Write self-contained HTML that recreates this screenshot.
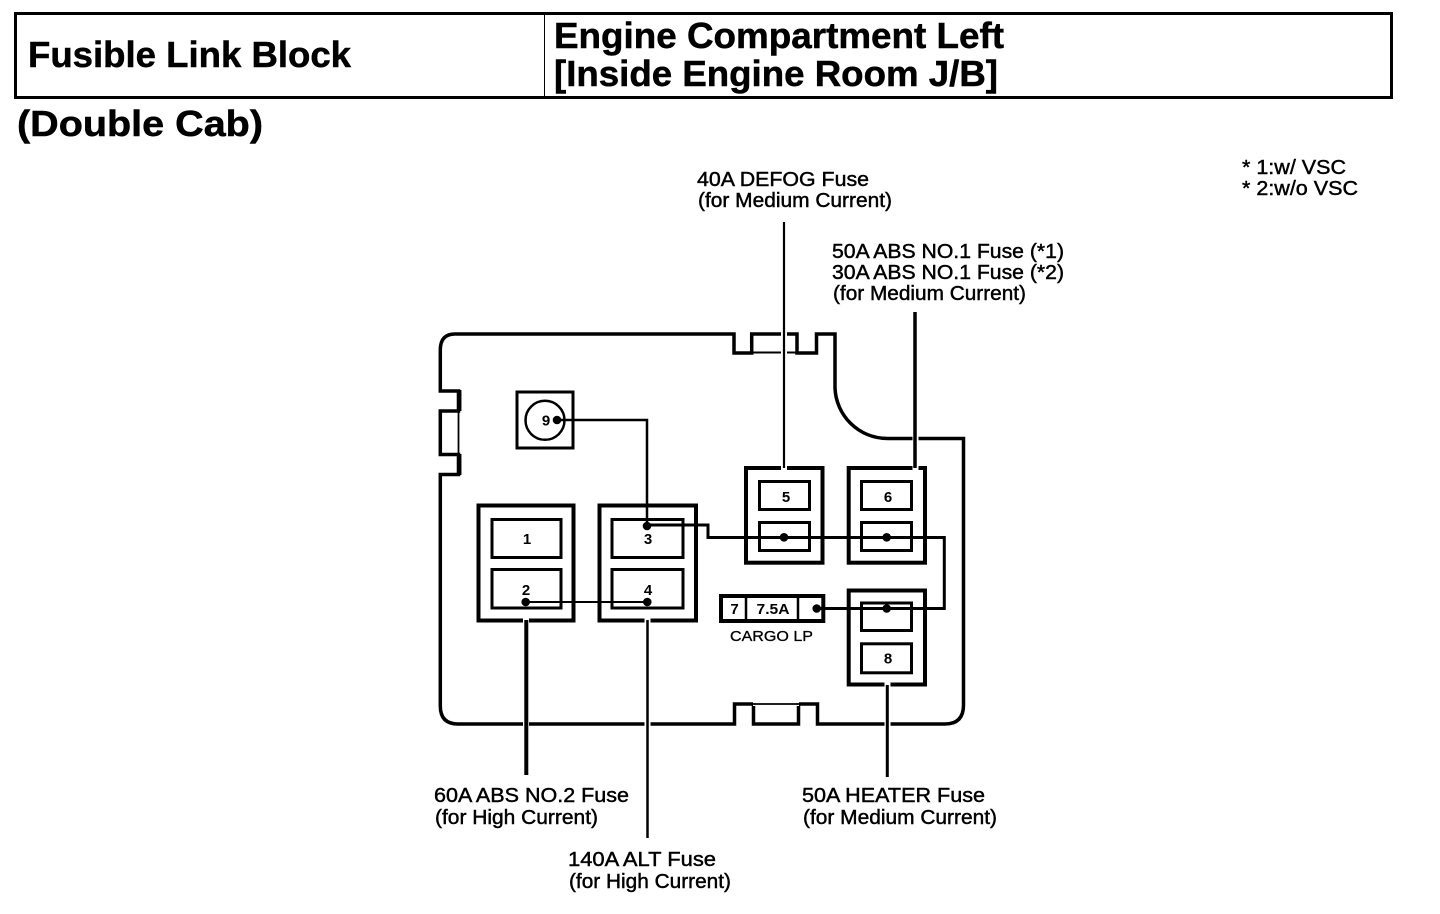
<!DOCTYPE html>
<html>
<head>
<meta charset="utf-8">
<style>
html,body{margin:0;padding:0;background:#fff;width:1440px;height:914px;overflow:hidden}
svg{display:block;position:absolute;left:0;top:0}
text{font-family:"Liberation Sans",sans-serif;fill:#000}
.b{font-weight:bold;stroke:#000;stroke-width:.5px}
.l{font-size:20px;stroke:#000;stroke-width:.45px}
.n{font-size:15px;font-weight:bold;text-anchor:middle}
</style>
</head>
<body>
<svg width="1440" height="914" viewBox="0 0 1440 914" xmlns="http://www.w3.org/2000/svg">
<!-- header -->
<rect x="15.5" y="13.500" width="1376" height="84" fill="none" stroke="#000" stroke-width="3"/>
<line x1="544.500" y1="14" x2="544.500" y2="98" stroke="#000" stroke-width="1"/>
<text class="b" x="28" y="67" font-size="36" textLength="323" lengthAdjust="spacingAndGlyphs">Fusible Link Block</text>
<text class="b" x="554" y="48" font-size="36" textLength="450" lengthAdjust="spacingAndGlyphs">Engine Compartment Left</text>
<text class="b" x="554" y="86" font-size="36" textLength="444" lengthAdjust="spacingAndGlyphs">[Inside Engine Room J/B]</text>
<text class="b" x="17" y="136" font-size="36" textLength="246" lengthAdjust="spacingAndGlyphs">(Double Cab)</text>

<!-- notes -->
<text class="l" x="1242" y="174" textLength="104" lengthAdjust="spacingAndGlyphs">* 1:w/ VSC</text>
<text class="l" x="1242" y="195" textLength="116" lengthAdjust="spacingAndGlyphs">* 2:w/o VSC</text>

<!-- housing outline -->
<g fill="none" stroke="#000" stroke-linejoin="miter">
<path d="M440.300 391 V350 Q440.300 334 455 334 H734 V353 H751.700 V334 H797 V353 H816.500 V334 H835 V388 C836 415 858 438.500 888 438.500 H963.500 V705 Q963.500 724 945 724 H817.500 V704 H798.500 V724 H753.500 V704 H734.500 V724 H458 Q440.300 724 440.300 706 V474.500 H458.500 V454.500 H440.300 V411 H458.500 V391 Z" stroke-width="3.500"/>
<line x1="752" y1="352.500" x2="798" y2="352.500" stroke-width="2"/>
<line x1="753" y1="704" x2="799" y2="704" stroke="#fff" stroke-width="4"/>
<line x1="752" y1="704" x2="800" y2="704" stroke-width="1.800"/>
<line x1="459.200" y1="390" x2="459.200" y2="411" stroke-width="4.500"/>
<line x1="459.200" y1="454" x2="459.200" y2="475" stroke-width="4.500"/>
<line x1="458.500" y1="411" x2="458.500" y2="455" stroke-width="1.800"/>
</g>

<!-- halos where leaders cross outline -->
<g stroke="#fff" stroke-width="6" fill="none">
<line x1="784" y1="331" x2="784" y2="356"/>
<line x1="915.500" y1="436" x2="915.500" y2="441"/>
<line x1="526" y1="720" x2="526" y2="727"/>
<line x1="647.500" y1="720" x2="647.500" y2="727"/>
<line x1="887.500" y1="720" x2="887.500" y2="727"/>
</g>

<!-- fuse 9 -->
<rect x="517" y="392" width="56" height="56" fill="#fff" stroke="#000" stroke-width="3"/>
<circle cx="545" cy="420.300" r="19.500" fill="none" stroke="#000" stroke-width="2.500"/>

<!-- blocks -->
<g fill="#fff" stroke="#000">
<rect x="478.500" y="505.500" width="95" height="115" stroke-width="4"/>
<rect x="492" y="519.500" width="69" height="38" stroke-width="3"/>
<rect x="492" y="569.500" width="69" height="38.500" stroke-width="3"/>
<rect x="599.500" y="505.500" width="96.500" height="115" stroke-width="4"/>
<rect x="612" y="519.500" width="71" height="38" stroke-width="3"/>
<rect x="612" y="569.500" width="71" height="38.500" stroke-width="3"/>
<rect x="746" y="468" width="76.500" height="94.700" stroke-width="4"/>
<rect x="759.500" y="481.500" width="50" height="28" stroke-width="3"/>
<rect x="759.500" y="522.500" width="50" height="28" stroke-width="3"/>
<rect x="848.700" y="468" width="76.300" height="94.700" stroke-width="4"/>
<rect x="861.500" y="481.500" width="50" height="28" stroke-width="3"/>
<rect x="861.500" y="522.500" width="50" height="28" stroke-width="3"/>
<rect x="848.700" y="590.500" width="76.300" height="94" stroke-width="4"/>
<rect x="861.500" y="603" width="50" height="27.500" stroke-width="3"/>
<rect x="861.500" y="643.800" width="50" height="29" stroke-width="3"/>
<rect x="721" y="596" width="102.300" height="25" stroke-width="4"/>
</g>
<line x1="746" y1="596" x2="746" y2="621" stroke="#000" stroke-width="2.500"/>
<line x1="798" y1="596" x2="798" y2="621" stroke="#000" stroke-width="2.500"/>

<!-- halos at block entries -->
<g stroke="#fff" stroke-width="6">
<line x1="784" y1="465" x2="784" y2="470"/>
<line x1="915.500" y1="465" x2="915.500" y2="470"/>
<line x1="526" y1="618" x2="526" y2="623"/>
<line x1="647.500" y1="618" x2="647.500" y2="623"/>
<line x1="887.500" y1="682" x2="887.500" y2="687"/>
</g>

<!-- leaders -->
<g stroke="#000" fill="none">
<line x1="784" y1="222" x2="784" y2="468" stroke-width="2.200"/>
<line x1="915" y1="312" x2="915" y2="468" stroke-width="3.500"/>
<line x1="526.300" y1="620" x2="526.300" y2="775" stroke-width="4"/>
<line x1="647.500" y1="620" x2="647.500" y2="838" stroke-width="2.500"/>
<line x1="887.300" y1="685" x2="887.300" y2="777" stroke-width="3"/>
</g>

<!-- wiring -->
<g stroke="#000" fill="none">
<path d="M557 420 H647 V525" stroke-width="2.500"/>
<path d="M647 525 H708 V537.500 H944.300 V608.500 H817" stroke-width="3"/>
<line x1="525" y1="602" x2="647" y2="602" stroke-width="2"/>
</g>
<g fill="#000">
<circle cx="557" cy="420" r="4.300"/>
<circle cx="647" cy="526" r="4.300"/>
<circle cx="525.700" cy="602" r="4.300"/>
<circle cx="647.300" cy="602" r="4.300"/>
<circle cx="784" cy="537.300" r="4.300"/>
<circle cx="886.700" cy="537.300" r="4.300"/>
<circle cx="886.700" cy="608.500" r="4.300"/>
<circle cx="816.700" cy="608.500" r="4.300"/>
</g>

<!-- numbers -->
<text class="n" x="546" y="425.500">9</text>
<text class="n" x="527" y="544">1</text>
<text class="n" x="526" y="595">2</text>
<text class="n" x="648" y="544">3</text>
<text class="n" x="648" y="595">4</text>
<text class="n" x="786" y="502">5</text>
<text class="n" x="888" y="502">6</text>
<text class="n" x="734.500" y="614">7</text>
<text class="n" x="773" y="614" textLength="33" lengthAdjust="spacingAndGlyphs">7.5A</text>
<text class="n" x="888" y="663.500">8</text>

<!-- labels -->
<text class="l" x="697" y="186" textLength="172" lengthAdjust="spacingAndGlyphs">40A DEFOG Fuse</text>
<text class="l" x="698" y="207" textLength="194" lengthAdjust="spacingAndGlyphs">(for Medium Current)</text>
<text class="l" x="832" y="258" textLength="232" lengthAdjust="spacingAndGlyphs">50A ABS NO.1 Fuse (*1)</text>
<text class="l" x="832" y="279" textLength="232" lengthAdjust="spacingAndGlyphs">30A ABS NO.1 Fuse (*2)</text>
<text class="l" x="833" y="300" textLength="193" lengthAdjust="spacingAndGlyphs">(for Medium Current)</text>
<text x="730" y="641" font-size="15" stroke="#000" stroke-width=".3" textLength="83" lengthAdjust="spacingAndGlyphs">CARGO LP</text>
<text class="l" x="434" y="802" textLength="195" lengthAdjust="spacingAndGlyphs">60A ABS NO.2 Fuse</text>
<text class="l" x="435" y="824" textLength="163" lengthAdjust="spacingAndGlyphs">(for High Current)</text>
<text class="l" x="802" y="802" textLength="183" lengthAdjust="spacingAndGlyphs">50A HEATER Fuse</text>
<text class="l" x="803" y="824" textLength="194" lengthAdjust="spacingAndGlyphs">(for Medium Current)</text>
<text class="l" x="568" y="866" textLength="148" lengthAdjust="spacingAndGlyphs">140A ALT Fuse</text>
<text class="l" x="569" y="888" textLength="162" lengthAdjust="spacingAndGlyphs">(for High Current)</text>
</svg>
</body>
</html>
